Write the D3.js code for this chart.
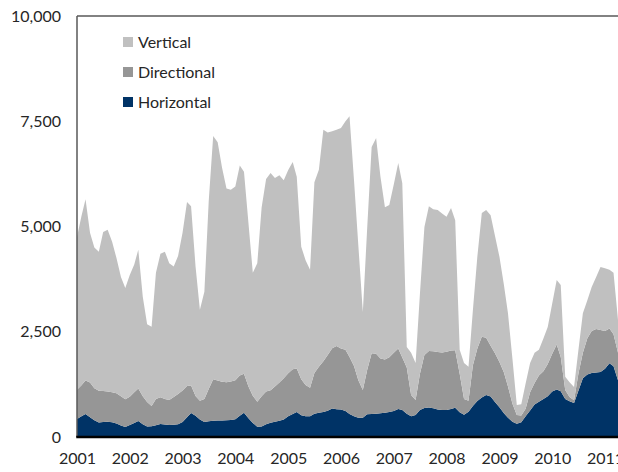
<!DOCTYPE html>
<html>
<head>
<meta charset="utf-8">
<script src="https://cdn.jsdelivr.net/npm/d3@7"></script>
<style>
  body { margin: 0; background: #fff; }
  text { font-family: Lato, "Open Sans", sans-serif; fill: #262626; }
</style>
</head>
<body>
<div id="chart"></div>
<script>
// monthly values, Jan 2001 .. Apr 2011
var horizontal = [
  430,490,545,470,395,342,355,363,352,320,275,235,
  283,335,380,305,247,257,280,310,297,286,289,303,
  355,470,570,505,415,355,375,386,390,394,397,403,
  420,505,575,445,335,245,250,300,337,362,385,418,
  490,545,595,515,490,490,555,575,595,625,678,660,
  655,618,545,490,455,455,540,547,555,562,575,592,
  620,665,640,555,495,520,640,690,700,685,655,640,
  640,665,695,590,530,600,735,855,940,998,960,830,
  705,565,460,365,315,350,490,630,770,840,900,968,
  1080,1130,1085,900,850,810,1100,1395,1485,1520,1535,1545,
  1620,1750,1680,1350];

var directional = [
  690,740,795,825,765,756,735,717,713,720,695,660,
  674,730,770,660,583,481,620,635,608,594,661,717,
  750,740,655,470,445,545,765,984,950,916,903,917,
  930,955,925,755,645,595,720,780,773,838,910,977,
  1025,1065,1030,855,745,680,965,1095,1205,1325,1432,1500,
  1450,1457,1355,1195,895,660,1050,1443,1425,1303,1265,1303,
  1380,1435,1250,1095,505,360,860,1260,1345,1350,1365,1365,
  1385,1390,1365,910,370,260,965,1245,1440,1357,1210,1160,
  1075,965,740,425,210,160,180,435,510,620,660,767,
  900,1070,815,215,100,60,400,605,860,995,1030,995,
  895,830,760,650];

var vertical = [
  3630,4020,4310,3555,3340,3302,3780,3840,3575,3210,2830,2645,
  2893,3035,3300,2365,1850,1882,3000,3405,3495,3250,3100,3280,
  3745,4370,4255,3075,2160,2550,4460,5780,5660,5090,4600,4550,
  4600,4990,4800,3880,2920,3290,4480,5050,5160,4950,4925,4705,
  4825,4920,4555,3150,2965,2800,4530,4680,5500,5280,5150,5140,
  5235,5425,5720,4415,3200,1855,3360,4900,5120,4315,3620,3615,
  4000,4410,4140,490,1000,880,1900,3040,3435,3375,3370,3305,
  3205,3385,3090,570,860,810,1300,2180,2940,3035,3100,2790,
  2500,2080,1740,1060,235,270,600,695,720,610,780,875,
  1190,1530,1710,315,350,320,560,940,905,1045,1235,1500,
  1495,1390,1460,780];

var seriesNames = ["Vertical", "Directional", "Horizontal"];
var yTicks = [0, 2500, 5000, 7500, 10000];

var colors = {Vertical: "#c0c0c0", Directional: "#969696", Horizontal: "#003366"};

var width = 618, height = 472,
    margin = {top: 16, right: 0, bottom: 35, left: 77};

var months = d3.timeMonth.range(new Date(2001, 0, 1), new Date(2011, 4, 1));

var rows = months.map(function(m, i) {
  return {date: m, Horizontal: horizontal[i], Directional: directional[i], Vertical: vertical[i]};
});

var x = d3.scaleTime()
    .domain([months[0], months[months.length - 1]])
    .range([margin.left, width - margin.right]);

var y = d3.scaleLinear()
    .domain([0, 10000])
    .range([height - margin.bottom, margin.top]);

var stack = d3.stack().keys(["Horizontal", "Directional", "Vertical"]);
var layers = stack(rows);

var area = d3.area()
    .x(function(d) { return x(d.data.date); })
    .y0(function(d) { return y(d[0]); })
    .y1(function(d) { return y(d[1]); });

var svg = d3.select("#chart").append("svg")
    .attr("width", width)
    .attr("height", height);

svg.append("g").selectAll("path")
    .data(layers)
  .enter().append("path")
    .attr("fill", function(d) { return colors[d.key]; })
    .attr("d", area);

// frame: top border, left axis, bottom axis
svg.append("line")
    .attr("x1", margin.left).attr("x2", width)
    .attr("y1", y(10000)).attr("y2", y(10000))
    .attr("stroke", "#595959").attr("stroke-width", 1.5);

svg.append("line")
    .attr("x1", margin.left).attr("x2", margin.left)
    .attr("y1", y(10000)).attr("y2", y(0))
    .attr("stroke", "#595959").attr("stroke-width", 1.5);

var yAxis = svg.append("g")
    .attr("transform", "translate(" + margin.left + ",0)")
    .call(d3.axisLeft(y).tickValues(yTicks).tickFormat(d3.format(",")).tickSize(0).tickPadding(16));
yAxis.select(".domain").remove();
yAxis.selectAll("text").style("font-size", "16px").attr("fill", "#262626");

var xAxis = svg.append("g")
    .attr("transform", "translate(0," + y(0) + ")")
    .call(d3.axisBottom(x).ticks(d3.timeYear.every(1)).tickFormat(d3.timeFormat("%Y")).tickSize(0).tickPadding(16));
xAxis.select(".domain").remove();
xAxis.selectAll("text").style("font-size", "16px").attr("fill", "#262626");

svg.append("line")
    .attr("x1", margin.left - 0.75).attr("x2", width)
    .attr("y1", y(0)).attr("y2", y(0))
    .attr("stroke", "#000").attr("stroke-width", 2.5);

// legend
var legend = svg.append("g")
    .attr("transform", "translate(123,37)");

var item = legend.selectAll("g")
    .data(seriesNames)
  .enter().append("g")
    .attr("transform", function(d, i) { return "translate(0," + i * 30 + ")"; });

item.append("rect")
    .attr("width", 10)
    .attr("height", 10)
    .attr("fill", function(d) { return colors[d]; });

item.append("text")
    .attr("x", 15)
    .attr("y", 5)
    .attr("dy", "0.35em")
    .style("font-size", "16px")
    .text(function(d) { return d; });
</script>
</body>
</html>
